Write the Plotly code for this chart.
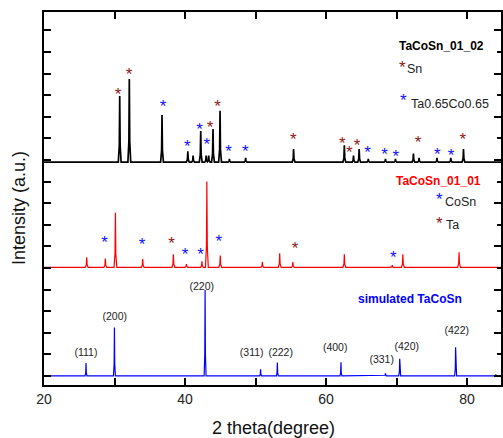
import plotly.graph_objects as go

# ---------------- data ----------------
# simulated TaCoSn (blue), baseline 0
sim_pos = [25.96, 29.99, 42.85, 50.72, 53.1, 62.12, 68.42, 70.45, 78.38, 84.1]
sim_h = [0.6, 2.24, 3.98, 0.31, 0.62, 0.63, 0.12, 0.79, 1.33, 0.06]
sim_base = 0.0

# TaCoSn_01_01 (red)
s1_pos = [26.06, 28.7, 30.13, 34.0, 38.35, 40.2, 42.4, 43.1, 45.0, 50.97, 53.43,
          55.3, 62.6, 69.4, 70.9, 78.87]
s1_h = [0.46, 0.4, 2.52, 0.38, 0.6, 0.15, 0.28, 3.97, 0.55, 0.25, 0.65,
        0.24, 0.6, 0.1, 0.6, 0.7]
s1_base = 5.03

# TaCoSn_01_02 (black)
s2_pos = [30.74, 32.1, 36.74, 40.4, 41.15, 42.23, 43.0, 43.36, 43.97, 44.97, 46.3,
          48.6, 55.4, 62.6, 63.9, 64.7, 66.0, 68.43, 69.85, 72.4, 73.2, 75.74, 77.7, 79.5]
s2_h = [3.06, 3.85, 2.18, 0.5, 0.3, 1.44, 0.3, 0.3, 1.53, 2.38, 0.15,
        0.2, 0.61, 0.78, 0.3, 0.6, 0.15, 0.15, 0.15, 0.4, 0.2, 0.2, 0.2, 0.6]
s2_base = 9.9

# phase markers (*)
sn_x = [30.5, 32.06, 43.55, 44.6, 55.36, 62.3, 63.3, 64.4, 73.05, 79.4]
sn_y = [13.16, 14.07, 11.62, 12.61, 11.08, 10.89, 10.45, 10.77, 10.94, 11.08]
taco_x = [36.9, 40.34, 42.08, 43.08, 46.16, 48.57, 65.9, 68.3, 69.9, 75.8, 77.75]
taco_y = [12.58, 10.74, 11.54, 10.82, 10.52, 10.5, 10.46, 10.36, 10.28, 10.36, 10.34]
cosn_x = [28.6, 33.9, 40.0, 42.2, 44.8, 69.55]
cosn_y = [6.3, 6.22, 5.75, 5.75, 6.34, 5.59]
ta_x = [38.1, 55.6]
ta_y = [6.26, 6.0]

# Miller indices of simulated pattern
hkl_text = ["(111)", "(200)", "(220)", "(311)", "(222)", "(400)", "(331)", "(420)", "(422)"]
hkl_x = [25.95, 30.04, 42.37, 49.46, 53.57, 61.3, 67.9, 71.45, 78.54]
hkl_y = [1.06, 2.69, 4.12, 1.04, 1.06, 1.28, 0.7, 1.34, 2.04]

x_ticks = [20, 30, 40, 50, 60, 70, 80]
x_labels = ["20", "", "40", "", "60", "", "80"]

# ---------------- figure ----------------
FONT = "Arial, Liberation Sans, sans-serif"
DARKRED = "#8e1a1a"
STAR_SHIFT = -0.17


def spikes(pos, h, base, w, x0=20, x1=85):
    xs, ys = [x0], [base]
    for p, hh in sorted(zip(pos, h)):
        xs += [p - w, p - w * 0.3, p, p + w * 0.3, p + w]
        ys += [base, base + hh * 0.25, base + hh, base + hh * 0.25, base]
    xs.append(x1)
    ys.append(base)
    return xs, ys


fig = go.Figure()
for pos, h, base, color, width, w in [
    (sim_pos, sim_h, sim_base, "#0000ff", 1.2, 0.14),
    (s1_pos, s1_h, s1_base, "#ff0000", 1.2, 0.2),
    (s2_pos, s2_h, s2_base, "#000000", 1.7, 0.2),
]:
    xs, ys = spikes(pos, h, base, w)
    fig.add_trace(go.Scatter(x=xs, y=ys, mode="lines",
                             line=dict(color=color, width=width),
                             hoverinfo="skip", showlegend=False))

for xs, ys, color in [(sn_x, sn_y, DARKRED), (taco_x, taco_y, "#1010ff"),
                      (cosn_x, cosn_y, "#1010ff"), (ta_x, ta_y, DARKRED)]:
    fig.add_trace(go.Scatter(x=xs, y=[v + STAR_SHIFT for v in ys], mode="text",
                             text=["*"] * len(xs),
                             textfont=dict(family=FONT, size=17, color=color),
                             hoverinfo="skip", showlegend=False))

fig.add_trace(go.Scatter(x=hkl_x, y=hkl_y, mode="text", text=hkl_text,
                         textfont=dict(family=FONT, size=10.5, color="#222222"),
                         hoverinfo="skip", showlegend=False))

# dummy for right axis
fig.add_trace(go.Scatter(x=[None], y=[None], yaxis="y2", showlegend=False))

ann = []
def txt(x, y, t, size, color, bold=False, anchor="left"):
    ann.append(dict(x=x, y=y, xref="x", yref="y", text=("<b>%s</b>" % t) if bold else t,
                    showarrow=False, xanchor=anchor, yanchor="middle",
                    font=dict(family=FONT, size=size, color=color)))

txt(70.0, 15.29, "TaCoSn_01_02", 12, "#000000", bold=True)
txt(70.1, 14.45 + STAR_SHIFT, "*", 17, DARKRED)
txt(71.2, 14.2, "Sn", 12.5, "#222222")
txt(70.2, 12.93 + STAR_SHIFT, "*", 17, "#1010ff")
txt(71.7, 12.6, "Ta0.65Co0.65", 12.5, "#222222")
txt(69.6, 9.03, "TaCoSn_01_01", 12, "#ff0000", bold=True)
txt(75.3, 8.33 + STAR_SHIFT, "*", 17, "#1010ff")
txt(76.6, 8.05, "CoSn", 12.5, "#222222")
txt(75.3, 7.25 + STAR_SHIFT, "*", 17, DARKRED)
txt(76.8, 7.0, "Ta", 12.5, "#222222")
txt(64.2, 3.56, "simulated TaCoSn", 12, "#0000ff", bold=True)

ann.append(dict(x=-0.055, y=0.474, xref="paper", yref="paper", text="Intensity (a.u.)",
                textangle=-90, showarrow=False, xanchor="center", yanchor="middle",
                font=dict(family=FONT, size=18, color="#111111")))
ann.append(dict(x=0.502, y=-0.115, xref="paper", yref="paper", text="2 theta(degree)",
                showarrow=False, xanchor="center", yanchor="middle",
                font=dict(family=FONT, size=18, color="#111111")))

YR = [-0.42, 16.85]
fig.update_layout(
    width=503, height=438,
    margin=dict(l=44, r=2, t=12, b=53),
    paper_bgcolor="white", plot_bgcolor="white",
    annotations=ann,
    xaxis=dict(range=[20, 84.82], tickmode="array", tickvals=x_ticks, ticktext=x_labels,
               ticks="inside", ticklen=7, tickwidth=1.5, tickcolor="black",
               showline=True, linewidth=2, linecolor="black", mirror="ticks",
               showgrid=False, zeroline=False,
               tickfont=dict(family=FONT, size=14, color="#222222")),
    yaxis=dict(range=YR, tick0=0, dtick=1, ticks="inside", ticklen=7, tickwidth=1.5,
               tickcolor="black", showticklabels=False,
               showline=True, linewidth=2, linecolor="black", mirror=False,
               showgrid=False, zeroline=False),
    yaxis2=dict(range=YR, overlaying="y", side="right", anchor="x",
                tick0=0, dtick=2, ticks="inside", ticklen=7, tickwidth=1.5,
                tickcolor="black", showticklabels=False,
                minor=dict(tick0=0, dtick=1, ticks="inside", ticklen=4, tickwidth=1.5,
                           tickcolor="black", showgrid=False),
                showline=True, linewidth=2, linecolor="black",
                showgrid=False, zeroline=False),
)

fig.write_html("out.html", config={"displayModeBar": False},
               post_script="document.body.style.margin='0';document.body.style.padding='0';")
